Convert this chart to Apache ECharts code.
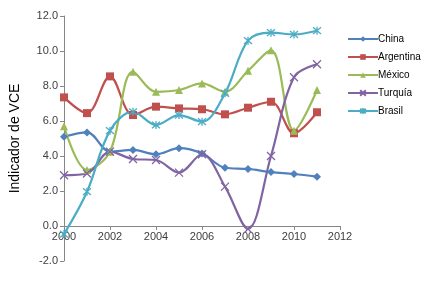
<!DOCTYPE html>
<html><head><meta charset="utf-8">
<script src="https://cdn.jsdelivr.net/npm/echarts@6/dist/echarts.min.js"></script>
<style>html,body{margin:0;padding:0;background:#fff}#c{width:428px;height:281px}</style>
</head><body><div id="c"></div>
<script>
const years = [2000,2001,2002,2003,2004,2005,2006,2007,2008,2009,2010,2011];
const seriesNames = ['China','Argentina','México','Turquía','Brasil'];
const china     = [5.1,5.35,4.25,4.35,4.1,4.45,4.15,3.33,3.26,3.08,2.97,2.82];
const argentina = [7.35,6.45,8.55,6.34,6.82,6.72,6.67,6.38,6.76,7.1,5.3,6.5];
const mexico    = [5.7,3.2,4.25,8.82,7.67,7.77,8.15,7.67,8.87,10.05,5.45,7.77];
const turquia   = [2.9,3.0,4.25,3.83,3.77,3.05,4.1,2.25,-0.17,4.0,8.5,9.24];
const brasil    = [-0.46,1.96,5.45,6.53,5.77,6.34,5.96,7.58,10.59,11.05,10.95,11.16];
const yTicks = [-2,0,2,4,6,8,10,12];
const xTicks = [2000,2002,2004,2006,2008,2010,2012];

const colors = ['#4F81BD','#C0504D','#9BBB59','#8064A2','#4BACC6'];
const symbols = ['diamond','rect','triangle','path://M0,0L10,10M10,0L0,10','path://M0,0L10,10M10,0L0,10M5,-1L5,11'];
const sizes = [8,8,8,8,8];
const dataArr = [china,argentina,mexico,turquia,brasil];

const gridTop = 16, gridBottom = 20, H = 281;
const plotH = H - gridTop - gridBottom;
const yMin = yTicks[0], yMax = yTicks[yTicks.length-1];
const zeroOffset = -((0 - yMin) / (yMax - yMin)) * plotH;

const series = seriesNames.map((n,i)=>{
  const open = i>=3;
  return {
    name:n, type:'line', smooth:0.35,
    data: years.map((y,k)=>[y,dataArr[i][k]]),
    symbol: symbols[i], symbolSize: sizes[i], showAllSymbol:true,
    lineStyle:{color:colors[i], width:2.2},
    itemStyle: open ? {color:'rgba(0,0,0,0)', borderColor:colors[i], borderWidth:1.3}
                    : {color:colors[i]},
    emphasis:{disabled:true}
  };
});

const chart = echarts.init(document.getElementById('c'), null, {renderer:'canvas'});
chart.setOption({
  animation:false,
  textStyle:{fontFamily:'Liberation Sans, Arial, sans-serif'},
  grid:{left:64, right:88, top:gridTop, bottom:gridBottom},
  legend:{
    orient:'vertical', left:342, top:29, itemWidth:30, itemHeight:7, itemGap:8,
    textStyle:{fontSize:10, color:'#000', fontFamily:'Liberation Sans Narrow, Arial Narrow, sans-serif', padding:[0,0,0,-5]},
    data: seriesNames
  },
  xAxis:{
    type:'value', min:xTicks[0], max:xTicks[xTicks.length-1], interval:2,
    position:'bottom', offset: zeroOffset,
    axisLine:{onZero:false, lineStyle:{color:'#868686'}},
    axisTick:{show:true, length:4, lineStyle:{color:'#868686'}},
    axisLabel:{color:'#404040', fontSize:11, margin:5, formatter:v=>String(v)},
    splitLine:{show:false}
  },
  yAxis:{
    type:'value', min:yMin, max:yMax, interval:2,
    name:'Indicador de VCE', nameLocation:'middle', nameGap:42,
    nameTextStyle:{fontSize:14, color:'#000'},
    axisLine:{show:true, onZero:false, lineStyle:{color:'#868686'}},
    axisTick:{show:true, length:4, lineStyle:{color:'#868686'}},
    axisLabel:{color:'#404040', fontSize:11, margin:6, formatter:v=>v.toFixed(1)},
    splitLine:{show:false}
  },
  series
});
</script></body></html>
